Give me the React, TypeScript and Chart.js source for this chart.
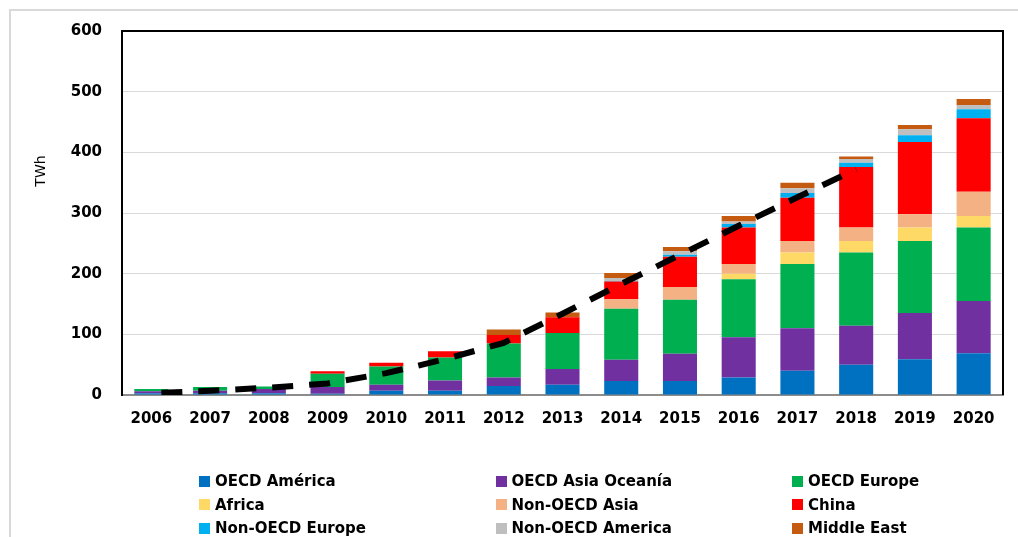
import React, { useEffect, useRef } from "react";
import { Chart, registerables } from "chart.js";

Chart.register(...registerables);

const years = ["2006", "2007", "2008", "2009", "2010", "2011", "2012", "2013", "2014", "2015", "2016", "2017", "2018", "2019", "2020"];
const yTicks = [0, 100, 200, 300, 400, 500, 600];

const oecdAmerica = [3, 3, 3, 2, 7, 7, 15, 17, 23, 23, 29, 40, 50, 59, 69];
const oecdAsiaOceania = [3, 4, 7, 11, 10, 17, 14, 26, 35, 45, 66, 70, 64, 76, 86];
const oecdEurope = [4, 6, 4, 22, 30, 38, 56, 59, 84, 89, 96, 106, 121, 119, 121];
const africa = [0, 0, 0, 0, 0, 0, 0, 0, 0, 0, 9, 19, 19, 22, 19];
const nonOecdAsia = [0, 0, 0, 0, 0, 0, 0, 0, 16, 21, 16, 19, 22, 22, 40];
const china = [0, 0, 0, 4, 6, 10, 14, 26, 29, 50, 60, 71, 100, 119, 121];
const nonOecdEurope = [0, 0, 0, 0, 0, 0, 0, 0, 1, 3, 6, 8, 7, 11, 15];
const nonOecdAmerica = [0, 0, 0, 0, 0, 0, 0, 0, 5, 6, 4, 8, 6, 10, 7];
const middleEast = [0, 0, 0, 0, 0, 0, 9, 8, 8, 7, 9, 9, 4, 7, 10];
const trend = [3, 7, 12, 19, 36, 59, 86, 134, 183, 231, 279, 326, 372, null, null];

const seriesNames = [
  "OECD América", "OECD Asia Oceanía", "OECD Europe",
  "Africa", "Non-OECD Asia", "China",
  "Non-OECD Europe", "Non-OECD America", "Middle East",
];
const seriesValues = [oecdAmerica, oecdAsiaOceania, oecdEurope, africa, nonOecdAsia, china, nonOecdEurope, nonOecdAmerica, middleEast];
const seriesColors = ["#0070C0", "#7030A0", "#00B050", "#FFD966", "#F4B183", "#FF0000", "#00B0F0", "#BFBFBF", "#C55A11"];

const FONT = "'DejaVu Sans', sans-serif";

const framePlugin = {
  id: "frame",
  beforeDatasetsDraw(chart: any) {
    const { ctx, chartArea } = chart;
    const { left, top, right, bottom } = chartArea;
    ctx.save();
    ctx.strokeStyle = "#000";
    ctx.lineWidth = 2;
    ctx.beginPath();
    ctx.moveTo(left - 1, top);
    ctx.lineTo(right, top);
    ctx.lineTo(right, bottom);
    ctx.stroke();
    ctx.restore();
  },
  afterDraw(chart: any) {
    const { ctx, chartArea } = chart;
    ctx.save();
    ctx.translate(chartArea.left - 77, chartArea.top + 140);
    ctx.rotate(-Math.PI / 2);
    ctx.fillStyle = "#000";
    ctx.font = `14px ${FONT}`;
    ctx.textAlign = "center";
    ctx.textBaseline = "alphabetic";
    ctx.fillText("TWh", 0, 0);
    ctx.restore();
  },
};

export default function App() {
  const canvasRef = useRef<HTMLCanvasElement | null>(null);

  useEffect(() => {
    const canvas = canvasRef.current;
    if (!canvas) return;
    const barSets = seriesNames.map((name, i) => ({
      type: "bar" as const,
      label: name,
      data: seriesValues[i],
      backgroundColor: seriesColors[i],
      borderWidth: 0,
      stack: "regions",
      order: 1,
      categoryPercentage: 1,
      barPercentage: 0.58,
    }));
    const chart = new Chart(canvas, {
      type: "bar",
      data: {
        labels: years,
        datasets: [
          ...barSets,
          {
            type: "line" as const,
            label: "trend",
            data: trend,
            borderColor: "#000",
            borderWidth: 6,
            borderDash: [21, 16],
            borderDashOffset: 27,
            borderCapStyle: "butt",
            pointRadius: 0,
            tension: 0,
            fill: false,
            stack: "trend",
            order: 0,
          } as any,
        ],
      },
      options: {
        responsive: false,
        animation: false,
        devicePixelRatio: 1,
        layout: { padding: { left: 0, right: 15, top: 31, bottom: 0 } },
        plugins: { legend: { display: false }, tooltip: { enabled: false } },
        scales: {
          x: {
            stacked: true,
            grid: { display: false, drawTicks: false },
            border: { color: "#8C8C8C", width: 2 },
            ticks: { color: "#000", font: { family: FONT, size: 15, weight: "bold" }, padding: 15, maxRotation: 0 },
            afterFit(scale: any) { scale.height = 142; },
          },
          y: {
            stacked: true,
            min: 0,
            max: 600,
            afterBuildTicks(scale: any) { scale.ticks = yTicks.map((v) => ({ value: v })); },
            grid: { color: "#D9D9D9", lineWidth: 1, drawTicks: false },
            border: { color: "#000", width: 2 },
            ticks: { color: "#000", font: { family: FONT, size: 15, weight: "bold" }, padding: 20 },
            afterFit(scale: any) { scale.width = 122; },
          },
        },
      },
      plugins: [framePlugin],
    });
    return () => chart.destroy();
  }, []);

  const colX = [199, 495.5, 792];
  const rowY = [481, 504.5, 528];

  return (
    <div style={{ position: "fixed", left: 0, top: 0, width: 1018, height: 537, overflow: "hidden", background: "#fff" }}>
      <div style={{ position: "absolute", left: 9, top: 9, width: 1200, height: 700, border: "2px solid #D9D9D9", boxSizing: "border-box" }} />
      <canvas ref={canvasRef} width={1018} height={537} style={{ position: "absolute", left: 0, top: 0, width: 1018, height: 537 }} />
      {seriesNames.map((name, i) => {
        const col = i % 3;
        const row = Math.floor(i / 3);
        return (
          <div
            key={name}
            style={{
              position: "absolute",
              left: colX[col],
              top: rowY[row] - 10,
              height: 20,
              display: "flex",
              alignItems: "center",
              fontFamily: FONT,
              fontWeight: "bold",
              fontSize: 15,
              color: "#000",
              whiteSpace: "nowrap",
            }}
          >
            <span style={{ display: "inline-block", width: 11, height: 11, background: seriesColors[i], marginRight: 5 }} />
            <span>{name}</span>
          </div>
        );
      })}
    </div>
  );
}
